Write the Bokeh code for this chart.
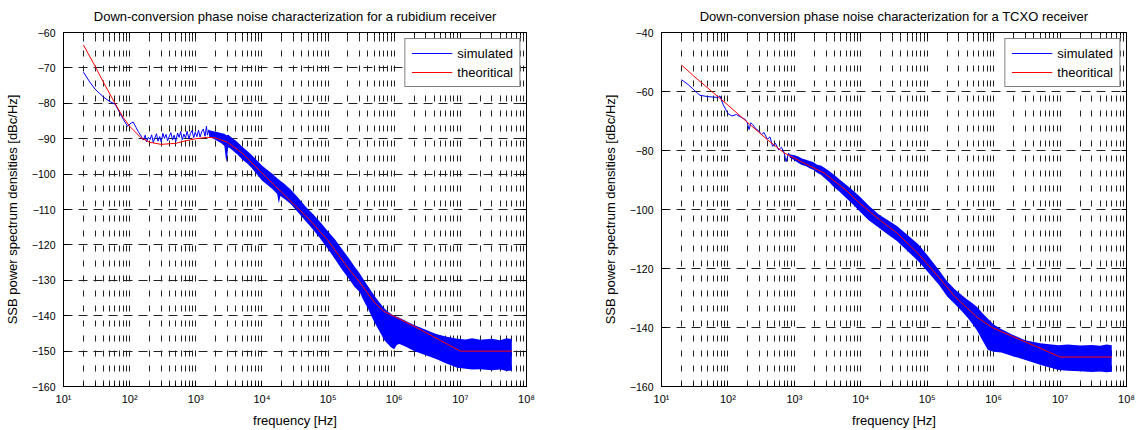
from bokeh.plotting import figure
from bokeh.layouts import row
from bokeh.models import (FixedTicker, LogAxis, LinearAxis, CustomJSTickFormatter,
                          Legend, LegendItem, Range1d)
from bokeh.embed import file_html
from bokeh.resources import INLINE

# ---------------- data ----------------
decade_ticks = [1e1, 1e2, 1e3, 1e4, 1e5, 1e6, 1e7, 1e8]
rb_y_ticks = [-160, -150, -140, -130, -120, -110, -100, -90, -80, -70, -60]
tc_y_ticks = [-160, -140, -120, -100, -80, -60, -40]

rb_title = "Down-conversion phase noise characterization for a rubidium receiver"
tc_title = "Down-conversion phase noise characterization for a TCXO receiver"
x_label = "frequency [Hz]"
y_label = "SSB power spectrum densities [dBc/Hz]"
series_names = ["simulated", "theoritical"]

# rubidium receiver - theoretical
rb_theo_freq = [20, 30, 40, 60, 80, 100, 150, 200, 300, 500, 700, 1000, 1500, 2000, 3000,
                5000, 1e4, 2e4, 5e4, 1e5, 2e5, 3e5, 5e5, 7e5, 1e6, 2e6, 5e6, 1e7, 6e7]
rb_theo_db = [-63.5, -69.5, -74.0, -80.0, -84.0, -86.5, -89.8, -91.0, -91.6, -91.3, -90.6,
              -90.0, -89.6, -89.8, -91.0, -94.0, -99.7, -105.2, -112.5, -118.8, -126.5,
              -130.5, -136.2, -138.8, -140.2, -143.0, -147.0, -150.0, -150.0]

# rubidium receiver - simulated (single noisy trace at low frequency)
rb_sim_line_freq = [20, 25, 30, 40, 50, 60, 70, 80, 93, 105, 113, 125, 135, 150, 160, 172,
                    180, 192, 205, 215, 228, 240, 255, 268, 285, 300, 318, 335, 355, 375, 400,
                    420, 445, 470, 500, 530, 560, 590, 625, 660, 700, 740, 790, 830, 880, 930,
                    980, 1040, 1100, 1160, 1230, 1300, 1380, 1450, 1500, 1580, 1650]
rb_sim_line_db = [-71.2, -74.0, -76.0, -78.2, -79.5, -80.2, -82.5, -84.5, -86.5, -85.6,
                  -85.3, -86.8, -88.0, -89.3, -90.4, -89.0, -90.9, -89.6, -90.2, -88.9,
                  -91.1, -89.8, -88.6, -90.7, -89.4, -90.9, -88.5, -89.9, -88.8, -90.6,
                  -89.2, -88.3, -90.4, -89.0, -90.7, -88.4, -89.6, -88.0, -90.3, -88.7,
                  -89.8, -87.9, -90.1, -88.5, -87.7, -89.7, -88.2, -89.4, -87.6, -89.5,
                  -88.0, -87.3, -89.3, -86.5, -89.0, -87.5, -89.6]

# rubidium receiver - simulated (noise envelope)
rb_band_freq = [1600, 1850, 2100, 2400, 2700, 2900, 3100, 3400, 3800, 4300, 5000, 6000, 7000,
                8500, 1e4, 1.2e4, 1.45e4, 1.7e4, 1.8e4, 1.9e4, 2.2e4, 2.7e4, 3.4e4, 4.6e4,
                6e4, 7.6e4, 1e5, 1.26e5, 1.6e5, 2.1e5, 2.5e5, 3e5, 3.4e5, 4e5, 4.5e5, 5e5,
                5.6e5, 6.3e5, 7e5, 8e5, 9e5, 1e6, 1.1e6, 1.2e6, 1.5e6, 2e6, 3e6, 4.3e6, 6e6,
                9e6, 1.2e7, 1.5e7, 2e7, 3e7, 4e7, 5e7, 6e7]
rb_band_upper = [-87.6, -87.9, -88.1, -88.4, -88.6, -89.0, -88.9, -89.5, -90.2, -91.0, -92.2,
                 -93.5, -94.6, -96.2, -97.6, -98.8, -100.0, -101.2, -101.5, -101.9, -102.8,
                 -104.3, -106.3, -109.2, -111.4, -113.5, -116.2, -118.3, -121.0, -124.0,
                 -126.0, -128.0, -129.6, -131.6, -133.0, -134.3, -135.6, -136.8, -137.8,
                 -138.8, -139.5, -140.0, -140.3, -140.6, -141.5, -142.6, -144.0, -145.2,
                 -145.9, -146.5, -146.7, -146.4, -146.8, -146.5, -146.9, -146.4, -146.6]
rb_band_lower = [-89.4, -90.0, -90.6, -91.2, -92.0, -96.8, -92.4, -92.9, -93.7, -94.5, -95.8,
                 -97.0, -98.3, -100.2, -101.8, -103.0, -104.3, -105.6, -108.3, -106.2,
                 -107.0, -108.4, -110.5, -113.3, -115.8, -118.2, -121.2, -123.9, -126.8,
                 -129.8, -131.8, -133.3, -135.5, -138.0, -140.0, -141.8, -143.5, -145.2,
                 -146.8, -148.0, -149.0, -149.5, -148.2, -148.0, -148.8, -150.0, -151.2,
                 -152.2, -153.4, -154.7, -155.0, -155.2, -155.1, -155.4, -155.2, -155.6,
                 -155.5]

# TCXO receiver - theoretical
tc_theo_freq = [20, 30, 60, 100, 200, 400, 700, 1000, 1500, 2800, 6000, 1e4, 2e4, 3.5e4, 7e4,
                1.5e5, 2.6e5, 5.6e5, 9.5e5, 2e6, 5e6, 1e7, 6e7]
tc_theo_db = [-51.0, -54.6, -60.4, -64.6, -70.6, -76.5, -80.8, -82.6, -84.6, -87.6, -93.5,
              -98.2, -103.8, -108.0, -114.5, -123.0, -129.5, -136.5, -140.0, -143.2, -147.0,
              -150.0, -150.0]

# TCXO receiver - simulated (single noisy trace at low frequency)
tc_sim_line_freq = [20, 25, 29, 35, 38, 49, 60, 71, 76, 85, 100, 115, 134, 160, 183, 195, 208,
                    222, 236, 260, 290, 320, 350, 390, 430, 470, 520, 580, 640, 700, 750,
                    820, 890]
tc_sim_line_db = [-56.0, -57.6, -58.9, -60.6, -61.3, -61.7, -61.9, -62.0, -61.5, -64.5, -67.5,
                  -68.3, -67.8, -68.8, -69.5, -70.5, -72.9, -70.6, -71.2, -72.5, -73.3,
                  -74.6, -73.9, -76.2, -75.4, -78.6, -77.6, -79.8, -78.9, -80.6, -83.8,
                  -80.9, -82.6]

# TCXO receiver - simulated (noise envelope)
tc_band_freq = [850, 1000, 1150, 1300, 1500, 1700, 1950, 2200, 2500, 2760, 3300, 4000, 4800,
                5900, 7500, 1e4, 1.3e4, 1.85e4, 2.5e4, 3.5e4, 5e4, 7.4e4, 1e5, 1.5e5, 2e5,
                2.6e5, 3.3e5, 4e5, 4.8e5, 5.6e5, 6.8e5, 8.2e5, 1e6, 1.3e6, 2e6, 3e6, 5e6,
                9.5e6, 1.3e7, 2e7, 3e7, 4e7, 5e7, 6e7]
tc_band_upper = [-81.3, -81.6, -82.0, -82.7, -83.1, -83.6, -84.0, -84.8, -85.1, -85.7, -86.9,
                 -88.3, -89.8, -91.4, -93.4, -95.9, -98.6, -101.6, -103.5, -105.6, -108.6,
                 -111.9, -115.4, -120.5, -124.4, -127.0, -129.0, -130.5, -131.8, -133.0,
                 -135.2, -137.0, -139.0, -140.5, -142.6, -144.3, -145.3, -146.0, -145.8,
                 -146.1, -145.9, -146.2, -145.8, -146.0]
tc_band_lower = [-82.4, -83.3, -84.2, -84.9, -85.3, -86.0, -86.6, -87.5, -88.2, -89.1, -90.6,
                 -92.5, -94.0, -95.9, -98.1, -101.0, -103.6, -106.1, -108.3, -110.7, -114.0,
                 -117.6, -120.9, -125.5, -129.5, -132.0, -134.4, -136.5, -138.8, -140.9,
                 -144.4, -147.6, -148.2, -148.5, -149.8, -151.0, -152.6, -154.4, -154.7,
                 -154.8, -155.1, -154.9, -155.2, -155.0]

# ---------------- styling ----------------
FONT = "Liberation Sans"
minor_ticks = [m * d for d in decade_ticks[:-1] for m in range(2, 10)]

sup_fmt = CustomJSTickFormatter(code="""
const s = {'0':'\u2070','1':'\u00b9','2':'\u00b2','3':'\u00b3','4':'\u2074','5':'\u2075',
           '6':'\u2076','7':'\u2077','8':'\u2078','9':'\u2079','-':'\u207b'};
const e = Math.round(Math.log10(tick));
return '10' + String(e).split('').map(c => s[c]).join('');
""")
blank_fmt = CustomJSTickFormatter(code="return ' ';")


def style_axis(ax, label_size="10.5px"):
    ax.axis_line_color = "black"
    ax.major_tick_line_color = "black"
    ax.minor_tick_line_color = "black"
    ax.major_tick_in = 5
    ax.major_tick_out = 0
    ax.minor_tick_in = 3
    ax.minor_tick_out = 0
    ax.major_label_text_font = FONT
    ax.major_label_text_font_size = label_size
    ax.major_label_text_color = "black"
    ax.axis_label_text_font = FONT
    ax.axis_label_text_font_size = "13px"
    ax.axis_label_text_font_style = "normal"
    ax.axis_label_text_color = "black"


def make_panel(title, y_ticks, y_min, y_max, theo_f, theo_db, line_f, line_db,
               band_f, band_up, band_lo, width, border_left, border_right):
    p = figure(width=width, height=430, x_axis_type="log",
               x_range=Range1d(10, 1e8), y_range=Range1d(y_min, y_max),
               output_backend="svg", toolbar_location=None,
               min_border_left=border_left, min_border_right=border_right,
               min_border_top=32, min_border_bottom=43, title=title)
    p.background_fill_color = "white"
    p.border_fill_color = "white"
    p.outline_line_color = "black"
    p.outline_line_width = 1

    p.title.text_font = FONT
    p.title.text_font_size = "13px"
    p.title.text_font_style = "normal"
    p.title.text_color = "black"
    p.title.align = "center"
    p.title.standoff = 9

    xt = FixedTicker(ticks=decade_ticks, minor_ticks=minor_ticks)
    yt = FixedTicker(ticks=y_ticks)

    xa = p.xaxis[0]
    xa.ticker = xt
    xa.formatter = sup_fmt
    style_axis(xa, "11px")
    xa.major_label_standoff = 6
    xa.axis_label = x_label
    xa.axis_label_standoff = 5

    ya = p.yaxis[0]
    ya.ticker = yt
    style_axis(ya)
    ya.major_label_standoff = 8
    ya.axis_label = y_label
    ya.axis_label_standoff = 9

    top = LogAxis(ticker=xt, formatter=blank_fmt)
    style_axis(top, "1px")
    top.major_label_standoff = 0
    p.add_layout(top, "above")
    right = LinearAxis(ticker=yt, formatter=blank_fmt)
    style_axis(right, "1px")
    right.major_label_standoff = 0
    p.add_layout(right, "right")

    p.xgrid.grid_line_color = "#222222"
    p.xgrid.grid_line_dash = "6 9"
    p.xgrid.minor_grid_line_color = "#222222"
    p.xgrid.minor_grid_line_dash = "6 9"
    p.ygrid.grid_line_color = "#222222"
    p.ygrid.grid_line_dash = "9 6"

    p.varea(x=band_f, y1=band_lo, y2=band_up, fill_color="#0000ff", fill_alpha=1.0)
    blue = p.line(line_f, line_db, line_color="#0000ff", line_width=1)
    red = p.line(theo_f, theo_db, line_color="#ff0000", line_width=1)

    legend = Legend(items=[LegendItem(label=series_names[0], renderers=[blue]),
                           LegendItem(label=series_names[1], renderers=[red])],
                    location="top_right")
    legend.border_line_color = "black"
    legend.border_line_width = 1
    legend.background_fill_color = "white"
    legend.background_fill_alpha = 1.0
    legend.label_text_font = FONT
    legend.label_text_font_size = "13px"
    legend.label_text_color = "black"
    legend.glyph_width = 41
    legend.glyph_height = 16
    legend.label_height = 16
    legend.spacing = 3
    legend.padding = 6
    legend.margin = 6
    legend.label_standoff = 5
    p.add_layout(legend)
    return p


p1 = make_panel(rb_title, rb_y_ticks, -160, -60, rb_theo_freq, rb_theo_db,
                rb_sim_line_freq, rb_sim_line_db, rb_band_freq, rb_band_upper,
                rb_band_lower, 570, 63, 44)
p2 = make_panel(tc_title, tc_y_ticks, -160, -40, tc_theo_freq, tc_theo_db,
                tc_sim_line_freq, tc_sim_line_db, tc_band_freq, tc_band_upper,
                tc_band_lower, 569, 91, 13)

layout = row(p1, p2)
open("out.html", "w").write(file_html(layout, INLINE))
